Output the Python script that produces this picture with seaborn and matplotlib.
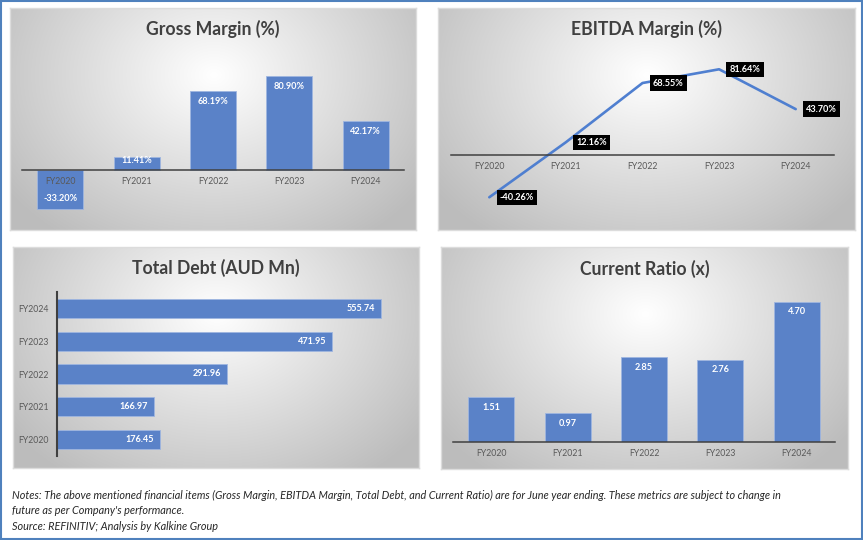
import numpy as np
import matplotlib
matplotlib.use("Agg")
import matplotlib.pyplot as plt
import seaborn as sns
from matplotlib.patches import Rectangle
from matplotlib import font_manager

# data
years = ["FY2020", "FY2021", "FY2022", "FY2023", "FY2024"]
gross_margin = [-33.20, 11.41, 68.19, 80.90, 42.17]
ebitda_margin = [-40.26, 12.16, 68.55, 81.64, 43.70]
total_debt = [176.45, 166.97, 291.96, 471.95, 555.74]
current_ratio = [1.51, 0.97, 2.85, 2.76, 4.70]

titles = ["Gross Margin (%)", "EBITDA Margin (%)", "Total Debt (AUD Mn)", "Current Ratio (x)"]
notes = [
    "Notes: The above mentioned financial items (Gross Margin, EBITDA Margin, Total Debt, and Current Ratio) are for June year ending. These metrics are subject to change in",
    "future as per Company's performance.",
    "Source: REFINITIV; Analysis by Kalkine Group",
]

W, H = 863, 540
BAR = "#5a82c8"
LINE = "#4f7fd0"
DARK = "#404040"
TICK = "#595959"

sns.set_theme(style="white")
plt.rcParams["font.family"] = ["Lato", "DejaVu Sans"]

installed = {f.name for f in font_manager.fontManager.ttflist}
note_font = "Liberation Sans Narrow" if "Liberation Sans Narrow" in installed else "Lato"

fig = plt.figure(figsize=(W / 100, H / 100), dpi=100)
fig.patch.set_facecolor("white")


def px_axes(x0, y0, x1, y1):
    ax = fig.add_axes([x0 / W, 1 - y1 / H, (x1 - x0) / W, (y1 - y0) / H])
    return ax


def panel(x0, y0, x1, y1, title, ty):
    bg = px_axes(x0, y0, x1, y1)
    h, w = int(y1 - y0), int(x1 - x0)
    yy, xx = np.mgrid[0:h, 0:w]
    r = np.sqrt(((xx - w * 0.5) / (w * 0.62)) ** 2 + ((yy - h * 0.3) / (h * 0.9)) ** 2)
    shade = 1.0 - 0.26 * np.clip(r, 0, 1)
    bg.imshow(np.dstack([shade] * 3), aspect="auto", interpolation="bilinear")
    bg.set_xticks([])
    bg.set_yticks([])
    for s in bg.spines.values():
        s.set_color("#dcdcdc")
        s.set_linewidth(1)
    fig.text((x0 + x1) / 2 / W, 1 - ty / H, title, ha="center", va="center",
             fontsize=12.7, weight="bold", color=DARK)


def data_axes(x0, y0, x1, y1):
    ax = px_axes(x0, y0, x1, y1)
    ax.set_facecolor("none")
    ax.set_axisbelow(False)
    for s in ax.spines.values():
        s.set_visible(False)
    return ax


def zero_axis(ax):
    ax.spines["bottom"].set_visible(True)
    ax.spines["bottom"].set_position(("data", 0))
    ax.spines["bottom"].set_color(DARK)
    ax.spines["bottom"].set_linewidth(1.1)
    ax.set_yticks([])
    ax.set_xlim(-0.5, 4.5)
    ax.tick_params(axis="x", length=0, pad=5, labelsize=6.3, labelcolor=TICK)
    ax.set(xlabel="", ylabel="")


def inside_labels(ax, values, texts):
    for i, (v, t) in enumerate(zip(values, texts)):
        off = -7.3 if v >= 0 else 7.3
        if abs(v) < 15:
            off = -2.5
        ax.annotate(t, (i, v), xytext=(0, off), textcoords="offset points",
                    ha="center", va="center", color="white", weight="bold", fontsize=6.6)


# panels
panel(10, 8, 416, 230, titles[0], 29)
panel(438, 8, 855, 230, titles[1], 29)
panel(13, 247, 419, 468, titles[2], 268)
panel(441, 247, 848, 469, titles[3], 269)

# Gross margin
ax = data_axes(22, 54, 404, 216.4)
sns.barplot(x=years, y=gross_margin, ax=ax, color=BAR, saturation=1, width=0.6,
            edgecolor="#9fb6e0", linewidth=0.6)
ax.set_ylim(-40, 100)
zero_axis(ax)
inside_labels(ax, gross_margin, [f"{v:.2f}%" for v in gross_margin])

# EBITDA margin
ax = data_axes(451, 50, 834, 207.5)
sns.lineplot(x=years, y=ebitda_margin, ax=ax, color=LINE, linewidth=1.9)
ax.set_ylim(-50, 100)
zero_axis(ax)
for i, v in enumerate(ebitda_margin):
    ax.annotate(f"{v:.2f}%", (i, v), xytext=(7.5, 0), textcoords="offset points",
                ha="left", va="center", color="white", weight="bold", fontsize=6.6,
                bbox=dict(boxstyle="square,pad=0.35", fc="black", ec="none"))

# Total debt
order = years[::-1]
ax = data_axes(57, 292, 407, 456)
sns.barplot(x=total_debt, y=years, order=order, orient="h", ax=ax, color=BAR,
            saturation=1, width=0.58, edgecolor="#9fb6e0", linewidth=0.6)
ax.set_xlim(0, 600)
ax.spines["left"].set_visible(True)
ax.spines["left"].set_color(DARK)
ax.spines["left"].set_linewidth(1.5)
ax.set_xticks([])
ax.tick_params(axis="y", length=0, pad=6, labelsize=6.3, labelcolor=TICK)
ax.set(xlabel="", ylabel="")
for y, v in zip(years, total_debt):
    ax.annotate(f"{v:.2f}", (v, order.index(y)), xytext=(-4.5, 0), textcoords="offset points",
                ha="right", va="center", color="white", weight="bold", fontsize=6.6)

# Current ratio
ax = data_axes(453, 278, 835, 442)
sns.barplot(x=years, y=current_ratio, ax=ax, color=BAR, saturation=1, width=0.6,
            edgecolor="#9fb6e0", linewidth=0.6)
ax.set_ylim(0, 5.5)
zero_axis(ax)
for i, v in enumerate(current_ratio):
    ax.annotate(f"{v:.2f}", (i, v), xytext=(0, -7.3), textcoords="offset points",
                ha="center", va="center", color="white", weight="bold", fontsize=6.6)

# notes
for line, y in zip(notes, [495, 511, 527]):
    fig.text(12 / W, 1 - y / H, line, ha="left", va="center", style="italic",
             fontsize=7.8, color="#262626", family=[note_font, "DejaVu Sans"])

# outer frame
fig.add_artist(Rectangle((1 / W, 1 / H), 861 / W, 538 / H, transform=fig.transFigure,
                         fill=False, ec="#4f81bd", lw=1.5))

fig.savefig("out.png", dpi=100)
